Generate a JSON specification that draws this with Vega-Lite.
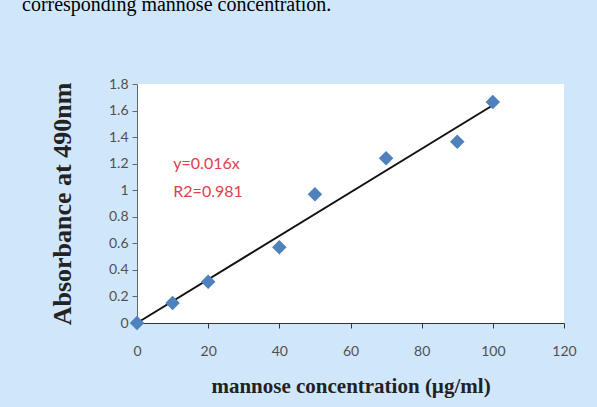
{
  "$schema": "https://vega.github.io/schema/vega-lite/v6.json",
  "width": 427,
  "height": 239,
  "autosize": {"type": "none"},
  "padding": {"left": 137, "top": 84, "right": 33, "bottom": 84},
  "background": "#d0e7fb",
  "title": {
    "text": "corresponding mannose concentration.",
    "anchor": "start",
    "frame": "group",
    "orient": "top",
    "baseline": "alphabetic",
    "offset": 46,
    "dx": -115,
    "font": "Liberation Serif",
    "fontSize": 20,
    "fontWeight": "normal",
    "color": "#000000"
  },
  "config": {
    "view": {"fill": "#ffffff", "stroke": null},
    "axis": {
      "grid": false,
      "labelFont": "Lato",
      "labelFontSize": 14,
      "labelColor": "#505050",
      "labelOverlap": false,
      "labelFlush": false,
      "titleFont": "Liberation Serif",
      "titleFontWeight": "bold",
      "titleColor": "#222222",
      "tickColor": "#666666",
      "domainColor": "#666666",
      "tickSize": 5
    }
  },
  "datasets": {
    "points": [
      {"conc": 0, "abs": 0},
      {"conc": 10, "abs": 0.15},
      {"conc": 20, "abs": 0.31},
      {"conc": 40, "abs": 0.57},
      {"conc": 50, "abs": 0.97},
      {"conc": 70, "abs": 1.24},
      {"conc": 90, "abs": 1.365},
      {"conc": 100, "abs": 1.665}
    ],
    "trend": [
      {"conc": 0, "abs": 0},
      {"conc": 100, "abs": 1.64}
    ],
    "notes": [
      {"conc": 10.2, "abs": 1.2, "label": "y=0.016x"},
      {"conc": 10.2, "abs": 0.99, "label": "R2=0.981"}
    ]
  },
  "encoding": {
    "x": {
      "field": "conc",
      "type": "quantitative",
      "scale": {"domain": [0, 120], "nice": false},
      "axis": {
        "values": [0, 20, 40, 60, 80, 100, 120],
        "title": "mannose concentration (µg/ml)",
        "titleFontSize": 21,
        "labelPadding": 16,
        "titlePadding": 17,
        "domainColor": "#333333",
        "tickColor": "#333333"
      }
    },
    "y": {
      "field": "abs",
      "type": "quantitative",
      "scale": {"domain": [0, 1.8], "nice": false},
      "axis": {
        "values": [0, 0.2, 0.4, 0.6, 0.8, 1, 1.2, 1.4, 1.6, 1.8],
        "tickCount": 10,
        "format": "~g",
        "title": "Absorbance at 490nm",
        "titleFontSize": 26,
        "labelPadding": 4,
        "titlePadding": 33
      }
    }
  },
  "layer": [
    {
      "data": {"name": "trend"},
      "mark": {"type": "line", "color": "#111111", "strokeWidth": 2}
    },
    {
      "data": {"name": "points"},
      "mark": {"type": "point", "shape": "diamond", "filled": true, "size": 210, "color": "#4f81bd", "opacity": 1}
    },
    {
      "data": {"name": "notes"},
      "mark": {"type": "text", "align": "left", "baseline": "middle", "font": "Lato", "fontSize": 16, "color": "#e0404e"},
      "encoding": {
        "text": {"field": "label"}
      }
    }
  ]
}
